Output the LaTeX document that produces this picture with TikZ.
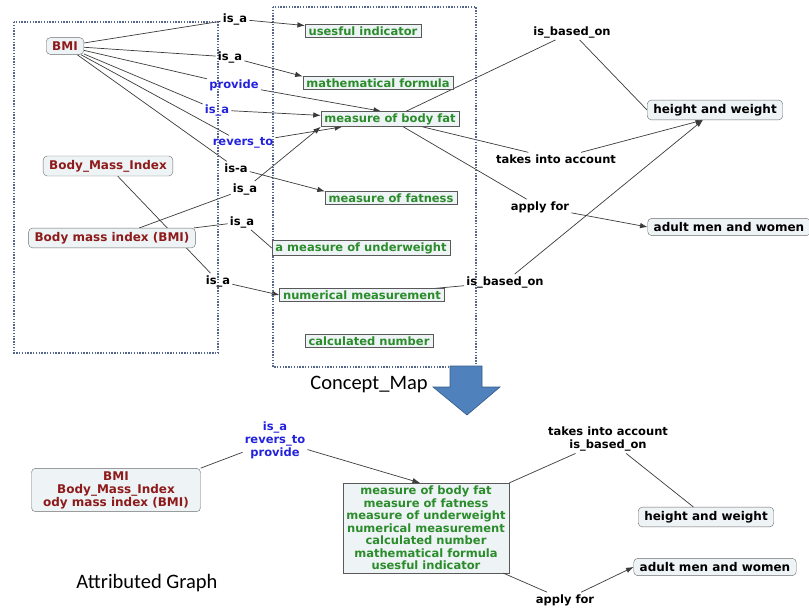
\documentclass[tikz,border=0pt]{standalone}
\usepackage{fontspec}
\setmainfont{DejaVu Sans}
\newfontfamily\capfont{Carlito}
\usetikzlibrary{arrows.meta,backgrounds}
\definecolor{boxfill}{HTML}{EEF3F5}
\definecolor{conceptred}{HTML}{8E1B1B}
\definecolor{leafgreen}{HTML}{2A8C2A}
\definecolor{relblue}{HTML}{2323DD}
\definecolor{linkgray}{HTML}{3A3A3A}
\definecolor{framecol}{HTML}{56678C}
\definecolor{bigarrow}{HTML}{4F81BD}
\tikzset{%
    every node/.style={font=\bfseries\fontsize{11.5}{13}\selectfont, inner sep=2pt},
    concept/.style={rectangle, rounded corners=4pt, draw=gray!85!black,
    	fill=boxfill, text=conceptred, inner xsep=6pt, inner ysep=4pt,
    	font=\bfseries\fontsize{12}{13}\selectfont},
    target/.style={concept, text=black},
    leaf/.style={rectangle, draw=gray!70!black, fill=boxfill, text=leafgreen,
    	inner xsep=3.5pt, inner ysep=2pt},
    rel/.style={text=black},
    relb/.style={text=relblue},
    caption/.style={font=\capfont\fontsize{20.5}{22}\selectfont},
    link/.style={draw=linkgray, line width=0.7pt},
    arr/.style={link, -{Latex[length=7.5pt,width=5.5pt]}},
    frame/.style={draw=framecol, line width=1.4pt, dash pattern=on 1.4pt off 1.4pt}
}

\begin{document}
\begin{tikzpicture}[x=1pt, y=-1pt]
	\useasboundingbox (0,0) rectangle (809,608);
	% concept map
	\draw[frame] (14,22) rectangle (218,353);
	\draw[frame] (273,7) rectangle (476,367);

	\node[concept] (bmi) at (65,46) {BMI};
	\node[concept] (bmidx) at (108,166) {Body\_Mass\_Index};
	\node[concept] (bmifull) at (112,238) {Body mass index (BMI)};

	\node[leaf] (useful) at (363,31) {usesful indicator};
	\node[leaf] (mathf) at (378,83) {mathematical formula};
	\node[leaf] (bodyfat) at (390,119) {measure of body fat};
	\node[leaf] (fatness) at (391,198) {measure of fatness};
	\node[leaf] (under) at (361,248) {a measure of underweight};
	\node[leaf] (numeric) at (362,295) {numerical measurement};
	\node[leaf] (calc) at (369,341) {calculated number};

	\node[target] (hw) at (715,110) {height and weight};
	\node[target] (adult) at (729,227) {adult men and women};

	\node[rel] (l1) at (235,19) {is\_a};
	\node[rel] (l2) at (230,57) {is\_a};
	\node[relb] (l3) at (234,85) {provide};
	\node[relb] (l4) at (217,110) {is\_a};
	\node[relb] (l5) at (243,143) {revers\_to};
	\node[rel] (l6) at (236,168) {is-a};
	\node[rel] (l7) at (245,189) {is\_a};
	\node[rel] (l8) at (242,222) {is\_a};
	\node[rel] (l9) at (218,281) {is\_a};
	\node[rel] (l10) at (572,32) {is\_based\_on};
	\node[rel] (l11) at (556,159) {takes into account};
	\node[rel] (l12) at (540,207) {apply for};
	\node[rel] (l13) at (505,282) {is\_based\_on};

	\begin{pgfonlayer}{background}
	\draw[link] (bmi) -- (l1);
	\draw[arr] (l1) -- (useful);
	\draw[link] (bmi) -- (l2);
	\draw[arr] (l2) -- (mathf.north west);
	\draw[link] (bmi) -- (l3);
	\draw[arr] (l3) -- ([xshift=-9pt]bodyfat.north);
	\draw[link] (bmi) -- (l4);
	\draw[arr] (l4) -- (bodyfat);
	\draw[link] (bmi) -- (l5);
	\draw[arr] (l5) -- (bodyfat);
	\draw[link] (bmi) -- (l6);
	\draw[arr] (l6) -- (fatness.north west);
	\draw[link] (bmifull) -- (l7);
	\draw[arr] (l7) -- (bodyfat.south west);
	\draw[link] (bmifull) -- (l8);
	\draw[link] (l8) -- (under.west);
	\draw[link] (bmidx) -- (l9);
	\draw[arr] (l9) -- (numeric.west);
	\draw[link] (bodyfat) -- (l10);
	\draw[link] (l10) -- (hw.west);
	\draw[link] (bodyfat) -- (l11);
	\draw[arr] (l11) -- ([xshift=-12pt]hw.south);
	\draw[link] (bodyfat) -- (l12);
	\draw[arr] (l12) -- (adult.west);
	\draw[link] (numeric) -- (l13);
	\draw[arr] (l13) -- ([xshift=-12pt]hw.south);
	\end{pgfonlayer}

	\node[caption] (cmap) at (369,384) {Concept\_Map};
	\draw[draw=bigarrow!70!black, fill=bigarrow, line width=0.6pt]
		(450,366) -- (482,366) -- (482,387) -- (500,387) -- (467,415)
		-- (433,387) -- (450,387) -- cycle;

	% attributed graph
	\node[concept, align=center, minimum width=169pt, inner ysep=3pt] (abmi) at (116,490)
		{BMI\\Body\_Mass\_Index\\ody mass index (BMI)};
	\node[relb, align=center] (alink) at (275,440) {is\_a\\revers\_to\\provide};
	\node[leaf, align=center, inner ysep=3pt, font=\bfseries\fontsize{11.5}{12.5}\selectfont]
		(abig) at (426,528) {measure of body fat\\measure of fatness\\
		measure of underweight\\numerical measurement\\calculated number\\
		mathematical formula\\usesful indicator};
	\node[rel, align=center] (alink2) at (608,439) {takes into account\\is\_based\_on};
	\node[target] (ahw) at (706,517) {height and weight};
	\node[target] (aadult) at (715,567) {adult men and women};
	\node[rel] (aapply) at (565,600) {apply for};
	\node[caption] (agraph) at (147,583) {Attributed Graph};

	\draw[link] (abmi.north east) -- (alink);
	\draw[arr] (alink) -- ([xshift=-6pt]abig.north);
	\draw[link] (abig.north east) -- (alink2);
	\draw[link] (alink2) -- (ahw);
	\draw[link] ([xshift=-6pt]abig.south east) -- (aapply);
	\draw[arr] (aapply) -- (aadult.west);
\end{tikzpicture}
\end{document}
